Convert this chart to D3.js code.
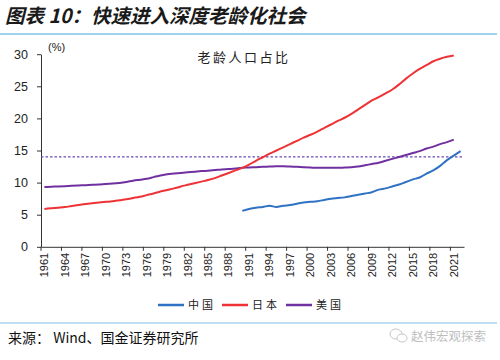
<!DOCTYPE html>
<html lang="zh">
<head>
<meta charset="UTF-8">
<title>快速进入深度老龄化社会</title>
<script src="https://d3js.org/d3.v7.min.js"></script>
<style>
  body { margin: 0; background: #fff; }
  svg { display: block; font-family: "Liberation Sans", Arial, sans-serif; }
  .cjk { font-family: "Noto Sans CJK SC", sans-serif; }
  .line { fill: none; stroke-width: 2px; }
  .axis path, .axis line { stroke: #333; }
  .axis text { fill: #222; }
</style>
</head>
<body>
<div id="chart"></div>
<script>

// years shown on the category axis
var years = d3.range(1961, 2023);

// 65+ share of population, %
var japanYears = d3.range(1961, 2022);
var japan = [5.9, 6.0, 6.1, 6.2, 6.35, 6.5, 6.65, 6.8, 6.9, 7.0,
  7.1, 7.25, 7.4, 7.6, 7.8, 8.05, 8.3, 8.6, 8.85, 9.1,
  9.4, 9.65, 9.9, 10.15, 10.4, 10.7, 11.1, 11.5, 11.9, 12.3,
  12.8, 13.4, 13.95, 14.5, 15.0, 15.5, 16.0, 16.5, 17.0, 17.45,
  17.95, 18.5, 19.05, 19.6, 20.1, 20.7, 21.4, 22.1, 22.8, 23.3,
  23.9, 24.5, 25.3, 26.2, 27.0, 27.7, 28.3, 28.9, 29.3, 29.6,
  29.8];

var usaYears = d3.range(1961, 2022);
var usa = [9.3, 9.35, 9.4, 9.45, 9.5, 9.55, 9.6, 9.65, 9.7, 9.8,
  9.85, 9.95, 10.1, 10.3, 10.45, 10.6, 10.85, 11.1, 11.3, 11.4,
  11.5, 11.6, 11.7, 11.8, 11.85, 11.95, 12.05, 12.1, 12.2, 12.3,
  12.35, 12.4, 12.45, 12.5, 12.55, 12.55, 12.5, 12.45, 12.4, 12.35,
  12.3, 12.3, 12.3, 12.3, 12.35, 12.4, 12.5, 12.7, 12.9, 13.1,
  13.4, 13.7, 14.0, 14.3, 14.6, 14.9, 15.3, 15.6, 16.0, 16.3,
  16.7];

var chinaYears = d3.range(1990, 2023);
var china = [5.6, 5.9, 6.1, 6.2, 6.4, 6.2, 6.4, 6.5, 6.7, 6.9,
  7.0, 7.1, 7.3, 7.5, 7.6, 7.7, 7.9, 8.1, 8.3, 8.5,
  8.9, 9.1, 9.4, 9.7, 10.1, 10.5, 10.8, 11.4, 11.9, 12.6,
  13.5, 14.2, 14.9];

var threshold = 14;
var yTicks = [0, 5, 10, 15, 20, 25, 30];
var xTickYears = d3.range(1961, 2022, 3);

var series = [
  {name: "中国", color: "#2f72c4", years: chinaYears, values: china},
  {name: "日本", color: "#ee3235", years: japanYears, values: japan},
  {name: "美国", color: "#7030a0", years: usaYears, values: usa}
];

var width = 500, height = 360;

var svg = d3.select("#chart").append("svg")
    .attr("width", width)
    .attr("height", height);

// header
svg.append("text")
    .attr("class", "cjk")
    .attr("x", 5).attr("y", 23)
    .style("font-size", "19.5px")
    .style("font-weight", "bold")
    .style("font-style", "italic")
    .style("fill", "#1a1a1a")
    .text("图表 10：快速进入深度老龄化社会");

svg.append("line")
    .attr("x1", 0).attr("x2", 497)
    .attr("y1", 34).attr("y2", 34)
    .style("stroke", "#7cc6e6").style("stroke-width", 1.5);

var x = d3.scaleBand().domain(years).range([41, 464]).padding(0);
var y = d3.scaleLinear().domain([0, 30]).range([246.8, 54.2]);
var bw = x.bandwidth();
var cx = function(yr) { return x(yr) + bw / 2; };

// y axis
var yAxis = svg.append("g")
    .attr("class", "axis")
    .attr("transform", "translate(41,0)")
    .call(d3.axisLeft(y).tickValues(yTicks).tickSize(4).tickPadding(9).tickSizeOuter(0));
yAxis.selectAll("text").style("font-size", "12.5px");

// x axis, ticks on category boundaries
var xAxis = svg.append("g")
    .attr("class", "axis")
    .attr("transform", "translate(0," + y(0) + ")")
    .call(d3.axisBottom(x).tickValues(xTickYears).tickSize(4).tickSizeOuter(0));
xAxis.selectAll(".tick line").attr("transform", "translate(" + (-bw / 2) + ",0)");
xAxis.selectAll("text")
    .style("font-size", "11px")
    .style("text-anchor", "end")
    .attr("transform", "rotate(-90)")
    .attr("x", -6).attr("y", 0).attr("dy", "0.35em");

svg.append("text")
    .attr("x", 48).attr("y", 51)
    .style("font-size", "11px").style("fill", "#222")
    .text("(%)");

svg.append("text")
    .attr("class", "cjk")
    .attr("x", 244).attr("y", 62)
    .attr("text-anchor", "middle")
    .style("font-size", "13px")
    .style("letter-spacing", "2.5px")
    .style("fill", "#222")
    .text("老龄人口占比");

// 14% line
svg.append("line")
    .attr("x1", 41).attr("x2", 462)
    .attr("y1", y(threshold)).attr("y2", y(threshold))
    .style("stroke", "#6a4bb8").style("stroke-width", 1.2)
    .style("stroke-dasharray", "2.5,2");

var line = d3.line()
    .curve(d3.curveMonotoneX)
    .x(function(d) { return cx(d[0]); })
    .y(function(d) { return y(d[1]); });

svg.selectAll(".line")
    .data(series.slice().reverse())
  .enter().append("path")
    .attr("class", "line")
    .style("stroke", function(d) { return d.color; })
    .attr("d", function(d) { return line(d3.zip(d.years, d.values)); });

// legend
var legendX = [158, 222, 286];
var legend = svg.selectAll(".legend")
    .data(series)
  .enter().append("g")
    .attr("transform", function(d, i) { return "translate(" + legendX[i] + ",305)"; });
legend.append("line")
    .attr("x1", 0).attr("x2", 26)
    .style("stroke", function(d) { return d.color; })
    .style("stroke-width", 2.5);
legend.append("text")
    .attr("class", "cjk")
    .attr("x", 30).attr("y", 4)
    .style("font-size", "11px")
    .style("letter-spacing", "3px")
    .style("fill", "#222")
    .text(function(d) { return d.name; });

// footer
svg.append("line")
    .attr("x1", 0).attr("x2", 497)
    .attr("y1", 323).attr("y2", 323)
    .style("stroke", "#a9d4ec").style("stroke-width", 1.5);

svg.append("text")
    .attr("class", "cjk")
    .attr("x", 8).attr("y", 343)
    .style("font-size", "14px")
    .style("fill", "#111")
    .text("来源： Wind、国金证券研究所");

// watermark
var wm = svg.append("g").attr("transform", "translate(396,337)").style("opacity", 0.55);
wm.append("ellipse").attr("cx", 0).attr("cy", -3).attr("rx", 6).attr("ry", 5)
    .style("fill", "none").style("stroke", "#999");
wm.append("ellipse").attr("cx", 6).attr("cy", 1).attr("rx", 5).attr("ry", 4)
    .style("fill", "#fff").style("stroke", "#999");
wm.append("text")
    .attr("class", "cjk")
    .attr("x", 15).attr("y", 4)
    .style("font-size", "12.5px")
    .style("fill", "#888")
    .text("赵伟宏观探索");

</script>
</body>
</html>
